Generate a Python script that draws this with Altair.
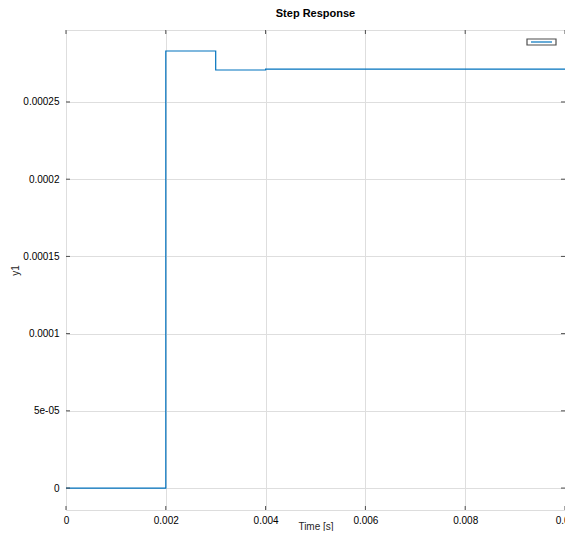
import altair as alt
import pandas as pd

# Data (discrete step response, Ts = 1 ms)
time_s = [0.0, 0.001, 0.002, 0.003, 0.004, 0.005, 0.006, 0.007, 0.008, 0.009, 0.010]
y1 = [0.0, 0.0, 2.830e-4, 2.707e-4, 2.713e-4, 2.713e-4, 2.713e-4, 2.713e-4, 2.713e-4, 2.713e-4, 2.713e-4]

x_ticks = [0.0, 0.002, 0.004, 0.006, 0.008, 0.010]
x_labels = ["0", "0.002", "0.004", "0.006", "0.008", "0.01"]
y_ticks = [0.0, 5e-5, 1e-4, 1.5e-4, 2e-4, 2.5e-4]
y_labels = ["0", "5e-05", "0.0001", "0.00015", "0.0002", "0.00025"]

x_domain = [0.0, 0.010]
y_domain = [-1.42e-5, 2.966e-4]

FONT = "Liberation Sans"
TXT = "#262626"
LINE = "#0072BD"
FRAME = "#4d4d4d"
GRID = "#dedede"

W, H = 499, 480


def label_expr(vals, labs):
    expr = "''"
    for v, l in reversed(list(zip(vals, labs))):
        expr = f"abs(datum.value - {v!r}) < 1e-12 ? '{l}' : ({expr})"
    return expr


df = pd.DataFrame({"t": time_s, "y": y1})
xt = pd.DataFrame({"t": x_ticks})
yt = pd.DataFrame({"y": y_ticks})

xscale = alt.Scale(domain=x_domain, nice=False, zero=False)
yscale = alt.Scale(domain=y_domain, nice=False, zero=False)

x_axis = alt.Axis(
    values=x_ticks,
    labelExpr=label_expr(x_ticks, x_labels),
    title="Time [s]",
    titleFontWeight="normal",
    titleFont=FONT,
    titleFontSize=10,
    titleColor=TXT,
    titleBaseline="alphabetic",
    titleY=19,
    grid=True,
    gridColor=GRID,
    ticks=False,
    domain=False,
    labelPadding=5,
    labelFlush=False,
)
y_axis = alt.Axis(
    values=y_ticks,
    labelExpr=label_expr(y_ticks, y_labels),
    title="y1",
    titleFontWeight="normal",
    titleFont=FONT,
    titleFontSize=10,
    titleColor=TXT,
    grid=True,
    gridColor=GRID,
    ticks=False,
    domain=False,
    labelPadding=7,
    titlePadding=2,
)

X = alt.X("t:Q", scale=xscale, axis=x_axis)
Y = alt.Y("y:Q", scale=yscale, axis=y_axis)

line = alt.Chart(df).mark_line(
    interpolate="step-after", color=LINE, strokeWidth=1.2, clip=True
).encode(x=X, y=Y)

# inward tick marks on all four sides
tick_len = 4
xt_bottom = alt.Chart(xt).mark_rule(color=FRAME).encode(
    x=X, y=alt.value(H), y2=alt.value(H - tick_len)
)
xt_top = alt.Chart(xt).mark_rule(color=FRAME).encode(
    x=X, y=alt.value(0), y2=alt.value(tick_len)
)
yt_left = alt.Chart(yt).mark_rule(color=FRAME).encode(
    y=Y, x=alt.value(0), x2=alt.value(tick_len)
)
yt_right = alt.Chart(yt).mark_rule(color=FRAME).encode(
    y=Y, x=alt.value(W), x2=alt.value(W - tick_len)
)

# empty legend box in the top-right corner
legend_box = alt.Chart(pd.DataFrame({"k": [0]})).mark_rect(
    fill="white", stroke=FRAME, strokeWidth=1.2
).encode(x=alt.value(W - 38), x2=alt.value(W - 9), y=alt.value(9), y2=alt.value(15))
legend_line = alt.Chart(pd.DataFrame({"k": [0]})).mark_rule(
    color=LINE, strokeWidth=1.2
).encode(x=alt.value(W - 34), x2=alt.value(W - 13), y=alt.value(12))

chart = (
    alt.layer(line, xt_bottom, xt_top, yt_left, yt_right, legend_box, legend_line)
    .properties(
        width=W,
        height=H,
        title=alt.TitleParams(
            "Step Response", fontSize=11, fontWeight="bold", font=FONT,
            color="#000000", offset=11, anchor="middle",
        ),
        autosize=alt.AutoSizeParams(type="none"),
        padding={"left": 58, "top": 22, "right": 0, "bottom": 21},
    )
    .configure_view(stroke=FRAME, strokeWidth=1)
    .configure_axis(
        labelFont=FONT, titleFont=FONT, labelFontSize=9.5, titleFontSize=10,
        labelColor=TXT, titleColor=TXT, titleFontWeight="normal",
    )
    .configure(background="white")
)

chart.save("out.html", embed_options={"renderer": "svg", "actions": False})
